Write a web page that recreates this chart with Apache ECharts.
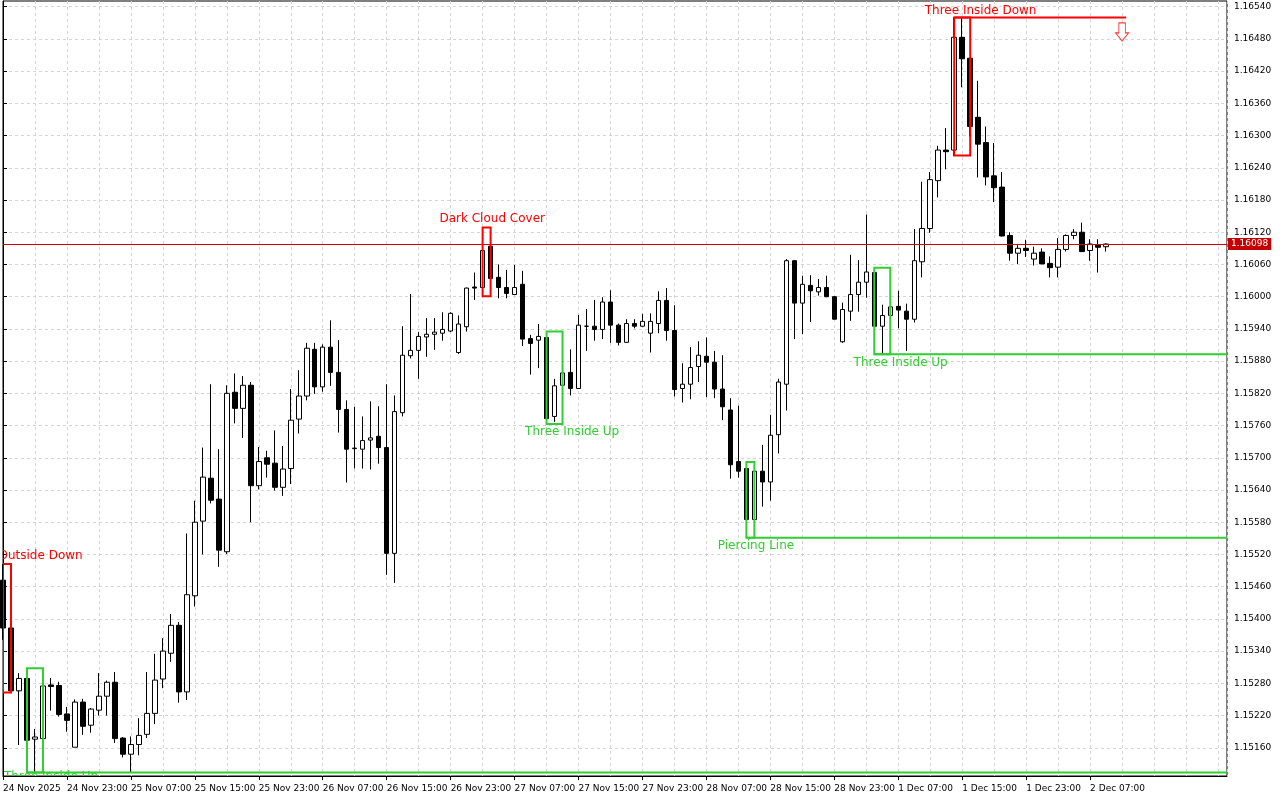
<!DOCTYPE html>
<html>
<head>
<meta charset="utf-8">
<script src="https://cdn.jsdelivr.net/npm/echarts@6/dist/echarts.min.js"></script>
<style>
html,body{margin:0;padding:0;background:#ffffff;}
#chart{width:1280px;height:800px;}
</style>
</head>
<body>
<div id="chart"></div>
<script>
// ---- Axis ticks / labels ----
const xTickBars = [0, 8, 16, 24, 32, 40, 48, 56, 64, 72, 80, 88, 96, 104, 112, 120, 128, 136];
const xTickLabels = ['24 Nov 2025', '24 Nov 23:00', '25 Nov 07:00', '25 Nov 15:00', '25 Nov 23:00',
  '26 Nov 07:00', '26 Nov 15:00', '26 Nov 23:00', '27 Nov 07:00', '27 Nov 15:00', '27 Nov 23:00',
  '28 Nov 07:00', '28 Nov 15:00', '28 Nov 23:00', '1 Dec 07:00', '1 Dec 15:00', '1 Dec 23:00', '2 Dec 07:00'];
const yTicks = [1.15160, 1.15220, 1.15280, 1.15340, 1.15400, 1.15460, 1.15520, 1.15580, 1.15640, 1.15700,
  1.15760, 1.15820, 1.15880, 1.15940, 1.16000, 1.16060, 1.16120, 1.16180, 1.16240, 1.16300,
  1.16360, 1.16420, 1.16480, 1.16540];

// ---- H1 candles (bar index 0 = 24 Nov 15:00) ----
const opens = [
  1.15472, 1.15383, 1.15266, 1.15289, 1.15176, 1.15177, 1.15277, 1.15276, 1.15223, 1.15161,
  1.15245, 1.15202, 1.15230, 1.15256, 1.15282, 1.15178, 1.15148, 1.15166, 1.15185, 1.15224,
  1.15288, 1.15336, 1.15388, 1.15264, 1.15443, 1.15582, 1.15662, 1.15623, 1.15525, 1.15822,
  1.15792, 1.15835, 1.15648, 1.15700, 1.15690, 1.15645, 1.15680, 1.15772, 1.15815, 1.15902,
  1.15832, 1.15906, 1.15859, 1.15790, 1.15717, 1.15716, 1.15733, 1.15740, 1.15719, 1.15522,
  1.15784, 1.15890, 1.15900, 1.15925, 1.15930, 1.15932, 1.15936, 1.15896, 1.15944, 1.16018,
  1.16017, 1.16094, 1.16036, 1.16017, 1.16004, 1.16023, 1.15922, 1.15919, 1.15924, 1.15777,
  1.15835, 1.15859, 1.15829, 1.15945, 1.15945, 1.15939, 1.15990, 1.15947, 1.15915, 1.15950,
  1.15945, 1.15932, 1.15950, 1.15993, 1.15937, 1.15829, 1.15837, 1.15870, 1.15889, 1.15878,
  1.15828, 1.15789, 1.15693, 1.15680, 1.15585, 1.15675, 1.15655, 1.15743, 1.15837, 1.16067,
  1.15988, 1.16021, 1.16009, 1.16017, 1.16000, 1.15916, 1.15973, 1.16004, 1.16027, 1.16045,
  1.15945, 1.15965, 1.15982, 1.15973, 1.15958, 1.16065, 1.16127, 1.16216, 1.16273, 1.16273,
  1.16483, 1.16444, 1.16334, 1.16287, 1.16225, 1.16204, 1.16114, 1.16081, 1.16090, 1.16070,
  1.16083, 1.16062, 1.16055, 1.16088, 1.16114, 1.16120, 1.16086, 1.16096, 1.16093
];
const highs = [
  1.15502, 1.15410, 1.15299, 1.15308, 1.15195, 1.15281, 1.15290, 1.15283, 1.15236, 1.15250,
  1.15251, 1.15234, 1.15299, 1.15285, 1.15301, 1.15180, 1.15181, 1.15215, 1.15301, 1.15335,
  1.15364, 1.15409, 1.15394, 1.15559, 1.15620, 1.15719, 1.15837, 1.15716, 1.15835, 1.15857,
  1.15852, 1.15841, 1.15720, 1.15713, 1.15751, 1.15722, 1.15828, 1.15863, 1.15914, 1.15914,
  1.15911, 1.15956, 1.15919, 1.15807, 1.15795, 1.15777, 1.15805, 1.15796, 1.15837, 1.15816,
  1.15945, 1.16005, 1.15934, 1.15960, 1.15960, 1.15971, 1.15971, 1.15965, 1.16017, 1.16045,
  1.16121, 1.16129, 1.16060, 1.16050, 1.16059, 1.16048, 1.15929, 1.15949, 1.15935, 1.15847,
  1.15877, 1.15902, 1.15966, 1.15977, 1.15994, 1.15999, 1.16012, 1.15950, 1.15958, 1.15958,
  1.15968, 1.15969, 1.16010, 1.16016, 1.15984, 1.15876, 1.15906, 1.15917, 1.15924, 1.15899,
  1.15891, 1.15811, 1.15797, 1.15681, 1.15692, 1.15724, 1.15780, 1.15847, 1.16070, 1.16068,
  1.16039, 1.16040, 1.16033, 1.16039, 1.16001, 1.15989, 1.16078, 1.16068, 1.16153, 1.16054,
  1.15985, 1.16013, 1.16011, 1.15987, 1.16126, 1.16214, 1.16232, 1.16281, 1.16314, 1.16520,
  1.16520, 1.16445, 1.16402, 1.16317, 1.16286, 1.16232, 1.16120, 1.16096, 1.16106, 1.16093,
  1.16090, 1.16075, 1.16109, 1.16116, 1.16126, 1.16138, 1.16107, 1.16107, 1.16099
];
const lows = [
  1.15361, 1.15263, 1.15165, 1.15160, 1.15113, 1.15165, 1.15229, 1.15218, 1.15190, 1.15161,
  1.15184, 1.15188, 1.15220, 1.15220, 1.15169, 1.15142, 1.15114, 1.15146, 1.15178, 1.15204,
  1.15271, 1.15320, 1.15244, 1.15249, 1.15423, 1.15520, 1.15615, 1.15497, 1.15521, 1.15764,
  1.15737, 1.15580, 1.15641, 1.15663, 1.15639, 1.15629, 1.15651, 1.15745, 1.15807, 1.15819,
  1.15823, 1.15834, 1.15747, 1.15654, 1.15680, 1.15680, 1.15678, 1.15689, 1.15482, 1.15467,
  1.15777, 1.15885, 1.15847, 1.15888, 1.15901, 1.15918, 1.15934, 1.15893, 1.15935, 1.15994,
  1.16001, 1.16013, 1.15997, 1.15997, 1.16004, 1.15908, 1.15855, 1.15867, 1.15763, 1.15767,
  1.15783, 1.15816, 1.15828, 1.15899, 1.15918, 1.15921, 1.15914, 1.15909, 1.15914, 1.15941,
  1.15944, 1.15896, 1.15932, 1.15918, 1.15814, 1.15803, 1.15809, 1.15841, 1.15813, 1.15811,
  1.15770, 1.15661, 1.15663, 1.15551, 1.15553, 1.15609, 1.15620, 1.15708, 1.15788, 1.15921,
  1.15930, 1.15953, 1.16002, 1.15999, 1.15958, 1.15914, 1.15955, 1.15972, 1.15998, 1.15925,
  1.15893, 1.15938, 1.15941, 1.15899, 1.15952, 1.16036, 1.16119, 1.16185, 1.16237, 1.16262,
  1.16390, 1.16298, 1.16222, 1.16207, 1.16176, 1.16112, 1.16067, 1.16061, 1.16074, 1.16058,
  1.16061, 1.16036, 1.16036, 1.16084, 1.16107, 1.16083, 1.16067, 1.16045, 1.16084
];
const closes = [
  1.15383, 1.15266, 1.15289, 1.15174, 1.15180, 1.15275, 1.15274, 1.15222, 1.15211, 1.15245,
  1.15200, 1.15232, 1.15256, 1.15282, 1.15177, 1.15148, 1.15166, 1.15183, 1.15224, 1.15286,
  1.15340, 1.15388, 1.15264, 1.15445, 1.15580, 1.15664, 1.15621, 1.15528, 1.15820, 1.15792,
  1.15835, 1.15648, 1.15693, 1.15688, 1.15645, 1.15679, 1.15770, 1.15815, 1.15904, 1.15832,
  1.15906, 1.15859, 1.15790, 1.15716, 1.15718, 1.15732, 1.15737, 1.15719, 1.15522, 1.15786,
  1.15891, 1.15900, 1.15926, 1.15930, 1.15934, 1.15939, 1.15969, 1.15949, 1.16016, 1.16016,
  1.16086, 1.16034, 1.16017, 1.16006, 1.16017, 1.15921, 1.15913, 1.15926, 1.15773, 1.15834,
  1.15858, 1.15829, 1.15947, 1.15945, 1.15939, 1.15990, 1.15947, 1.15915, 1.15950, 1.15945,
  1.15954, 1.15954, 1.15993, 1.15937, 1.15827, 1.15837, 1.15868, 1.15891, 1.15878, 1.15828,
  1.15795, 1.15687, 1.15675, 1.15585, 1.15675, 1.15655, 1.15742, 1.15841, 1.16067, 1.15988,
  1.16023, 1.16011, 1.16017, 1.16000, 1.15958, 1.15976, 1.16004, 1.16027, 1.16046, 1.15945,
  1.15965, 1.15981, 1.15975, 1.15958, 1.16067, 1.16127, 1.16218, 1.16273, 1.16270, 1.16483,
  1.16443, 1.16317, 1.16284, 1.16223, 1.16203, 1.16113, 1.16081, 1.16090, 1.16086, 1.16081,
  1.16061, 1.16054, 1.16088, 1.16114, 1.16120, 1.16084, 1.16098, 1.16092, 1.16098
];
const lastPrice = 1.16098;

// ---- Candlestick pattern annotations ----
const patternNames = ['Outside Down', 'Three Inside Up', 'Dark Cloud Cover', 'Three Inside Up',
  'Piercing Line', 'Three Inside Up', 'Three Inside Down'];
const patternStart = [0, 3, 60, 68, 93, 109, 119];
const patternEnd = [1, 5, 61, 70, 94, 111, 121];
const patternHigh = [1.15502, 1.15308, 1.16129, 1.15935, 1.15692, 1.16054, 1.16520];
const patternLow = [1.15263, 1.15114, 1.16001, 1.15763, 1.15551, 1.15893, 1.16263];
const patternBull = [false, true, false, true, true, true, false];
const patternLineEnd = [null, 153.125, null, null, 153.125, 153.125, 140.5];
const patternLabelBar = [4.7, 6.0, 61.2, 71.2, 94.2, 112.3, 122.3];
const patternLabelPrice = [1.15517, 1.15105, 1.16145, 1.15748, 1.15536, 1.15877, 1.16532];
const arrowBar = [140];
const arrowPrice = [1.16493];

const X_MIN = 0, X_MAX = 153.125;
const Y_MIN = 1.151074, Y_MAX = 1.165506;
const RED = '#ff0000', GREEN = '#32cd32';
const AXIS_FONT = 'DejaVu Sans';

const candleData = opens.map((o, i) => [i, o, closes[i], lows[i], highs[i]]);

const chart = echarts.init(document.getElementById('chart'), null, { renderer: 'canvas' });

const option = {
  animation: false,
  backgroundColor: '#ffffff',
  textStyle: { fontFamily: AXIS_FONT },
  grid: {
    left: 2, right: 53, top: 1, bottom: 24,
    show: true, borderColor: '#000000', borderWidth: 1, backgroundColor: 'transparent'
  },
  xAxis: [
    {
      type: 'value', min: X_MIN, max: X_MAX, interval: 4, position: 'bottom',
      axisLine: { show: true, lineStyle: { color: '#000' } },
      axisTick: { show: false },
      axisLabel: { show: false },
      splitLine: { show: true, lineStyle: { color: '#d4d4d4', type: [3, 3], width: 1 } }
    },
    {
      type: 'value', min: X_MIN, max: X_MAX, position: 'bottom',
      axisLine: { show: false },
      axisTick: { show: true, customValues: xTickBars, length: 4, lineStyle: { color: '#000' } },
      axisLabel: {
        show: true, customValues: xTickBars, align: 'left', margin: 8,
        color: '#000', fontSize: 9, fontFamily: AXIS_FONT,
        formatter: function (v) {
          const k = xTickBars.indexOf(Math.round(v));
          return k >= 0 ? xTickLabels[k] : '';
        }
      },
      splitLine: { show: false }
    }
  ],
  yAxis: {
    type: 'value', position: 'right', min: Y_MIN, max: Y_MAX, scale: true,
    axisLine: { show: true, lineStyle: { color: '#000' } },
    axisTick: { show: true, customValues: yTicks, length: 4, lineStyle: { color: '#000' } },
    axisLabel: {
      show: true, customValues: yTicks, margin: 7, color: '#000', fontSize: 9, fontFamily: AXIS_FONT,
      formatter: function (v) { return v.toFixed(5); }
    },
    splitLine: { show: true, lineStyle: { color: '#d4d4d4', type: [3, 3], width: 1 } }
  },
  series: [
    {
      type: 'candlestick',
      xAxisIndex: 0, yAxisIndex: 0,
      data: candleData,
      encode: { x: 0, y: [1, 2, 3, 4] },
      barWidth: 5,
      itemStyle: {
        color: '#ffffff', color0: '#000000',
        borderColor: '#000000', borderColor0: '#000000', borderColorDoji: '#000000',
        borderWidth: 1
      },
      z: 3,
      markLine: {
        silent: true,
        precision: 5,
        symbol: ['none', 'none'],
        animation: false,
        data: [{ yAxis: lastPrice }],
        lineStyle: { color: '#d00000', width: 1, type: 'solid' },
        label: {
          show: true, position: 'end', distance: 1,
          formatter: lastPrice.toFixed(5),
          color: '#ffffff', backgroundColor: '#c40000',
          padding: [2, 3, 1, 3], fontSize: 9, fontFamily: AXIS_FONT
        },
        emphasis: { disabled: true }
      }
    },
    {
      type: 'custom',
      xAxisIndex: 0, yAxisIndex: 0,
      clip: true,
      z: 5,
      data: patternStart.map((s, i) => [s, patternHigh[i]]),
      renderItem: function (params, api) {
        const i = params.dataIndex;
        const col = patternBull[i] ? GREEN : RED;
        const tl = api.coord([patternStart[i], patternHigh[i]]);
        const br = api.coord([patternEnd[i], patternLow[i]]);
        const children = [{
          type: 'rect',
          shape: { x: tl[0], y: tl[1], width: br[0] - tl[0], height: br[1] - tl[1] },
          style: { fill: 'none', stroke: col, lineWidth: 2 }
        }];
        if (patternLineEnd[i] != null) {
          const lvl = patternBull[i] ? patternLow[i] : patternHigh[i];
          const a = api.coord([patternStart[i], lvl]);
          const b = api.coord([patternLineEnd[i], lvl]);
          children.push({
            type: 'line',
            shape: { x1: a[0], y1: a[1], x2: b[0], y2: b[1] },
            style: { stroke: col, lineWidth: 2 }
          });
        }
        const t = api.coord([patternLabelBar[i], patternLabelPrice[i]]);
        children.push({
          type: 'text', x: t[0], y: t[1],
          style: {
            text: patternNames[i], fill: col,
            font: '12px "DejaVu Sans"', align: 'center', verticalAlign: 'middle'
          }
        });
        return { type: 'group', children: children };
      }
    },
    {
      type: 'scatter',
      xAxisIndex: 0, yAxisIndex: 0,
      z: 6,
      data: arrowBar.map((b, i) => [b, arrowPrice[i]]),
      symbol: 'path://M3,0 L9,0 L9,10 L12,10 L6,18 L0,10 L3,10 Z',
      symbolSize: [13, 18],
      itemStyle: { color: '#ffffff', borderColor: RED, borderWidth: 1 },
      silent: true
    }
  ]
};

chart.setOption(option);
</script>
</body>
</html>
